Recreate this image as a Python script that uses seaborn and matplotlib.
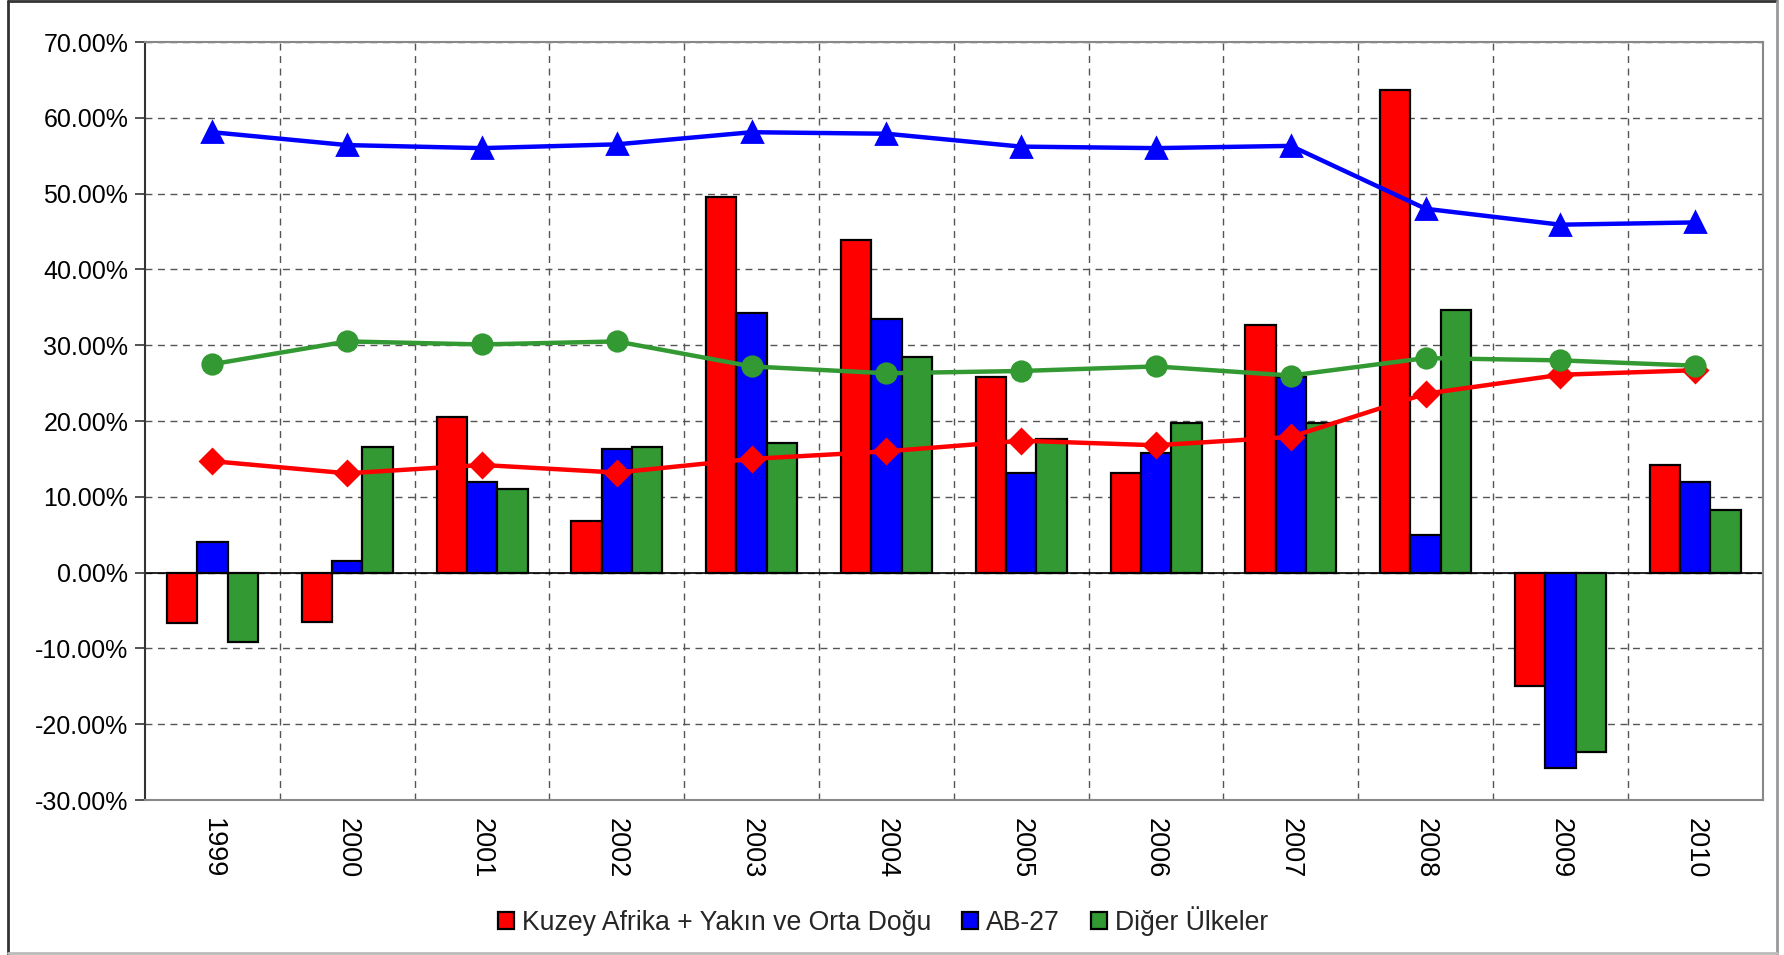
import matplotlib
matplotlib.use("Agg")
import matplotlib.pyplot as plt
from matplotlib.lines import Line2D
from matplotlib.ticker import FixedLocator, FuncFormatter
import numpy as np
import pandas as pd
import seaborn as sns

# ---------------------------------------------------------------------------
# Data (in percent)
# ---------------------------------------------------------------------------
YEARS = ["1999", "2000", "2001", "2002", "2003", "2004",
         "2005", "2006", "2007", "2008", "2009", "2010"]

SERIES = ["Kuzey Afrika + Yakın ve Orta Doğu", "AB-27", "Diğer Ülkeler"]

# bars: growth rates
BAR_KUZEY = [-6.7, -6.5, 20.5, 6.8, 49.6, 43.9, 25.8, 13.1, 32.7, 63.7, -14.9, 14.2]
BAR_AB27  = [4.1, 1.5, 12.0, 16.3, 34.3, 33.5, 13.1, 15.8, 25.8, 4.9, -25.8, 12.0]
BAR_DIGER = [-9.1, 16.6, 11.0, 16.6, 17.1, 28.5, 17.6, 19.8, 19.7, 34.6, -23.7, 8.3]

# lines: shares
LINE_KUZEY = [14.7, 13.1, 14.2, 13.2, 15.0, 16.0, 17.4, 16.8, 17.9, 23.6, 26.1, 26.7]
LINE_AB27  = [58.1, 56.4, 56.0, 56.5, 58.1, 57.9, 56.2, 56.0, 56.3, 48.0, 45.9, 46.2]
LINE_DIGER = [27.5, 30.5, 30.1, 30.5, 27.2, 26.3, 26.6, 27.2, 26.0, 28.3, 28.0, 27.3]

COLORS  = ["#FF0000", "#0000FF", "#339933"]
MARKERS = ["D", "^", "o"]
MSIZES  = [12, 15, 14]

# ---------------------------------------------------------------------------
# Style
# ---------------------------------------------------------------------------
sns.set_theme(style="white")
plt.rcParams["font.family"] = ["Liberation Sans", "DejaVu Sans"]
FS = 18

df_bars = pd.DataFrame({
    "year":   YEARS * 3,
    "series": [s for s in SERIES for _ in YEARS],
    "value":  BAR_KUZEY + BAR_AB27 + BAR_DIGER,
})

fig = plt.figure(figsize=(17.84, 9.55), dpi=100)
ax = fig.add_axes([0.0813, 0.1623, 0.9067, 0.7937])

sns.barplot(data=df_bars, x="year", y="value", hue="series",
            order=YEARS, hue_order=SERIES, palette=COLORS,
            width=0.675, saturation=1, errorbar=None,
            edgecolor="black", linewidth=1.6, ax=ax)

for vals, col, mk, ms in zip([LINE_KUZEY, LINE_AB27, LINE_DIGER], COLORS, MARKERS, MSIZES):
    sns.pointplot(x=YEARS, y=vals, order=YEARS, color=col, markers=mk,
                  markersize=ms, errorbar=None, ax=ax)
for ln in ax.lines:
    ln.set_zorder(4)
    ln.set_linewidth(3.2)

# ---------------------------------------------------------------------------
# Axes
# ---------------------------------------------------------------------------
ax.set_xlim(-0.5, len(YEARS) - 0.5)
ax.set_ylim(-30, 70)
ax.set_yticks(np.arange(-30, 71, 10))
ax.yaxis.set_major_formatter(FuncFormatter(lambda v, _: f"{v:.2f}%"))
ax.set_xlabel("")
ax.set_ylabel("")

ax.xaxis.set_minor_locator(FixedLocator(np.arange(0.5, len(YEARS) - 1, 1.0)))
ax.grid(axis="y", which="major", linestyle=(0, (5, 4)), color="#555555", linewidth=1.0)
ax.grid(axis="x", which="minor", linestyle=(0, (5, 4)), color="#555555", linewidth=1.0)
ax.grid(axis="x", which="major", visible=False)
ax.set_axisbelow(True)
ax.axhline(0, color="black", linewidth=1.2, zorder=1.5)

ax.tick_params(axis="y", which="major", left=True, length=7, width=1.2,
               color="#333333", pad=5, labelsize=FS, labelcolor="black")
ax.tick_params(axis="x", which="both", bottom=False, labelsize=FS + 1.5,
               labelrotation=-90, pad=7, labelcolor="black")

for side in ["top", "right", "bottom"]:
    ax.spines[side].set_color("#888888")
    ax.spines[side].set_linewidth(1.5)
ax.spines["left"].set_color("#333333")
ax.spines["left"].set_linewidth(1.5)

# ---------------------------------------------------------------------------
# Legend (bars only)
# ---------------------------------------------------------------------------
handles, labels = ax.get_legend_handles_labels()
ax.legend_.remove()
fig.legend(handles[:3], labels[:3], loc="center", bbox_to_anchor=(0.495, 0.036),
           ncol=3, frameon=False, fontsize=FS + 1.2, handlelength=0.6, handleheight=0.6,
           handletextpad=0.3, columnspacing=1.15)

# outer frame
fig.add_artist(Line2D([0.0045, 0.996], [0.999, 0.999], color="#333333", linewidth=2,
                      transform=fig.transFigure))
fig.add_artist(Line2D([0.0045, 0.0045], [0.001, 0.999], color="#333333", linewidth=2,
                      transform=fig.transFigure))
fig.add_artist(Line2D([0.996, 0.996], [0.001, 0.999], color="#999999", linewidth=2,
                      transform=fig.transFigure))
fig.add_artist(Line2D([0.0045, 0.996], [0.002, 0.002], color="#bbbbbb", linewidth=2,
                      transform=fig.transFigure))

fig.savefig("out.png", dpi=100, facecolor="white")
